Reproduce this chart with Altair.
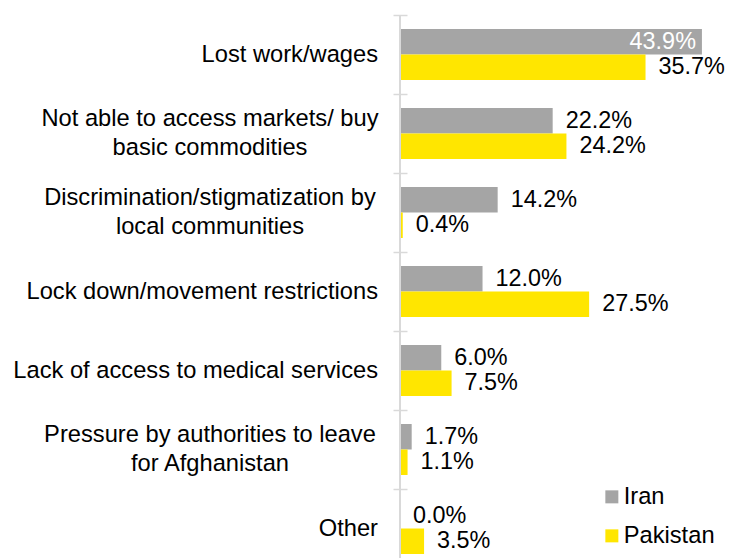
import altair as alt
import pandas as pd

categories = [
    "Lost work/wages",
    "Not able to access markets/ buy|basic commodities",
    "Discrimination/stigmatization by|local communities",
    "Lock down/movement restrictions",
    "Lack of access to medical services",
    "Pressure by authorities to leave|for Afghanistan",
    "Other",
]
countries = ["Iran", "Pakistan"]
iran = [43.9, 22.2, 14.2, 12.0, 6.0, 1.7, 0.0]
pakistan = [35.7, 24.2, 0.4, 27.5, 7.5, 1.1, 3.5]

rows = []
for c, a, b in zip(categories, iran, pakistan):
    rows.append({"cat": c, "country": "Iran", "v": a})
    rows.append({"cat": c, "country": "Pakistan", "v": b})
df = pd.DataFrame(rows)

FONT = "Liberation Sans, Arial, sans-serif"
FS = 23.7
ROW = 79
H = ROW * len(categories)
W = 326
AXIS_GREY = "#D9D9D9"

y = alt.Y(
    "cat:N",
    sort=categories,
    scale=alt.Scale(paddingInner=0, paddingOuter=0),
    axis=alt.Axis(
        title=None,
        domain=False,
        labels=False,
        tickBand="extent",
        tickSize=14,
        offset=-7,
        tickColor=AXIS_GREY,
        tickWidth=1.5,
    ),
)
yoff = alt.YOffset(
    "country:N", sort=countries, scale=alt.Scale(paddingInner=0, paddingOuter=0.55)
)
x = alt.X("v:Q", scale=alt.Scale(domain=[0, 47.4]), axis=None)
color = alt.Color(
    "country:N",
    sort=countries,
    scale=alt.Scale(domain=countries, range=["#A5A5A5", "#FFE600"]),
    legend=alt.Legend(
        title=None,
        orient="none",
        legendX=200,
        legendY=470,
        symbolType="square",
        symbolSize=169,
        symbolStrokeWidth=0,
        labelFont=FONT,
        labelFontSize=FS,
        labelColor="#000000",
        rowPadding=14,
        labelOffset=0,
        padding=0,
    ),
)

base = alt.Chart(df).transform_calculate(lbl="format(datum.v, '.1f') + '%'")

bars = base.mark_bar().encode(x=x, y=y, yOffset=yoff, color=color)

outside = (
    base.transform_filter("datum.v < 40")
    .mark_text(align="left", baseline="middle", dx=13, font=FONT, fontSize=23.4, color="#000000")
    .encode(x=x, y=y, yOffset=yoff, text="lbl:N")
)
inside = (
    base.transform_filter("datum.v >= 40")
    .mark_text(align="right", baseline="middle", dx=-6, font=FONT, fontSize=23.4, color="#FFFFFF")
    .encode(x=x, y=y, yOffset=yoff, text="lbl:N")
)

cat_base = alt.Chart(df).transform_filter("datum.country == 'Iran'")
cat_single = (
    cat_base.transform_filter("indexof(datum.cat, '|') < 0")
    .mark_text(align="right", baseline="middle", font=FONT, fontSize=FS, color="#000000")
    .encode(y=y, x=alt.value(-22), text="cat:N")
)
cat_multi = (
    cat_base.transform_filter("indexof(datum.cat, '|') >= 0")
    .mark_text(
        align="center", baseline="middle", dy=-14.5, font=FONT, fontSize=FS,
        color="#000000", lineBreak="|", lineHeight=29,
    )
    .encode(y=y, x=alt.value(-190), text="cat:N")
)

domain_line = (
    alt.Chart(alt.Data(values=[{}]))
    .mark_rule(color=AXIS_GREY, strokeWidth=2)
    .encode(x=alt.value(0), y=alt.value(0), y2=alt.value(H))
)

chart = (
    alt.layer(bars, outside, inside, cat_single, cat_multi, domain_line)
    .properties(
        width=W,
        height=H,
        padding={"left": 392, "top": 7, "right": 0, "bottom": 0},
        autosize=alt.AutoSizeParams(type="none"),
    )
    .configure_view(stroke=None)
)

chart.save("out.html", embed_options={"renderer": "svg", "actions": False})
